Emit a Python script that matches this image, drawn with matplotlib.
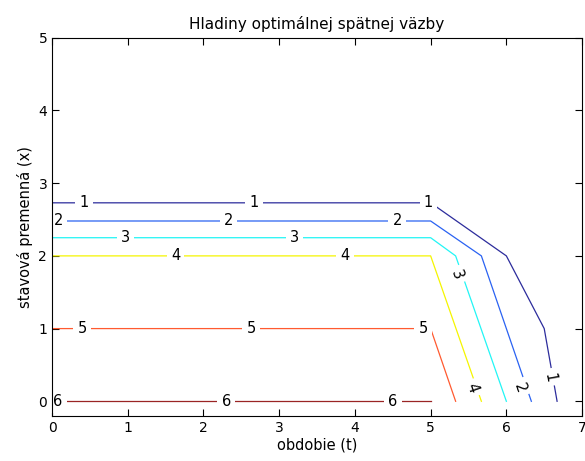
import numpy as np
import matplotlib
matplotlib.use("Agg")
import matplotlib.pyplot as plt

# contour levels and their polyline vertices (t, x)
levels = [1, 2, 3, 4, 5, 6]
line_t = [
    [0, 5.0, 6.0, 6.5, 6.67],
    [0, 5.0, 5.67, 6.33],
    [0, 5.0, 5.33, 6.0],
    [0, 5.0, 5.67],
    [0, 5.0, 5.33],
    [0, 5.0],
]
line_x = [
    [2.73, 2.73, 2.0, 1.0, 0.0],
    [2.48, 2.48, 2.0, 0.0],
    [2.25, 2.25, 2.0, 0.0],
    [2.0, 2.0, 0.0],
    [1.0, 1.0, 0.0],
    [0.0, 0.0],
]
# label positions along each line (t, x)
label_pos = [
    [(0.42, 2.73), (2.67, 2.73), (4.97, 2.73), (6.57, 0.33)],
    [(0.08, 2.48), (2.33, 2.48), (4.56, 2.48), (6.18, 0.19)],
    [(0.97, 2.25), (3.2, 2.25), (5.35, 1.74)],
    [(1.63, 2.0), (3.87, 2.0), (5.55, 0.18)],
    [(0.4, 1.0), (2.63, 1.0), (4.9, 1.0)],
    [(0.08, 0.0), (2.3, 0.0), (4.5, 0.0)],
]
colors = ['#2c2c9c', '#2a62f2', '#22f5f5', '#f5f500', '#ff5a30', '#9a2424']

fig = plt.figure(figsize=(5.85, 4.61), dpi=100)
ax = fig.add_axes([0.089, 0.098, 0.906, 0.820])
ax.set_xlim(0, 7)
ax.set_ylim(-0.2, 5)

for lev, t, x, c, labs in zip(levels, line_t, line_x, colors, label_pos):
    ax.plot(t, x, color=c, lw=0.9, zorder=2)
    t = np.array(t)
    x = np.array(x)
    for lt, lx in labs:
        # rotation along the segment containing the label
        rot = 0
        seg = None
        for i in range(len(t) - 1):
            if min(t[i], t[i + 1]) - 1e-6 <= lt <= max(t[i], t[i + 1]) + 1e-6 and \
               min(x[i], x[i + 1]) - 1e-6 <= lx <= max(x[i], x[i + 1]) + 1e-6:
                seg = i
        if seg is not None and x[seg] != x[seg + 1]:
            p0 = ax.transData.transform((t[seg], x[seg]))
            p1 = ax.transData.transform((t[seg + 1], x[seg + 1]))
            rot = np.degrees(np.arctan2(p1[1] - p0[1], p1[0] - p0[0]))
        ax.text(lt, lx, str(lev), ha='center', va='center', fontsize=10.5,
                rotation=rot, rotation_mode='anchor', zorder=2.2,
                bbox=dict(facecolor='white', edgecolor='none', pad=3.0))

ax.set_xticks(range(0, 8))
ax.set_yticks(range(0, 6))
ax.tick_params(direction='in', top=True, right=True, length=5, labelsize=10)
ax.set_title('Hladiny optimálnej spätnej väzby', fontsize=11)
ax.set_xlabel('obdobie (t)', fontsize=10.5, labelpad=2)
ax.set_ylabel('stavová premenná (x)', fontsize=10.5, labelpad=4)

fig.savefig('out.png', dpi=100)
